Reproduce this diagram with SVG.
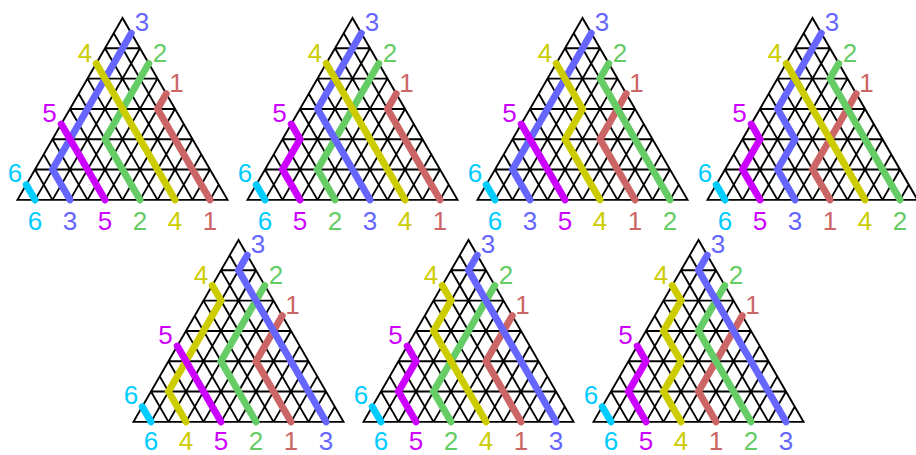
<svg xmlns="http://www.w3.org/2000/svg" xmlns:xlink="http://www.w3.org/1999/xlink" width="916" height="455" viewBox="0 0 916 455">
<style>
.g{fill:none;stroke:#000;stroke-width:1.9}
.p{fill:none;stroke-width:7;stroke-linecap:round;stroke-linejoin:miter}
.t{font-family:"Liberation Sans",Arial,sans-serif;font-size:26px;text-anchor:middle}
.c1{stroke:#cc6666}.c2{stroke:#66cc66}.c3{stroke:#6666ff}.c4{stroke:#cccc00}.c5{stroke:#cc00ff}.c6{stroke:#00ccff}
.f1{fill:#cc6666}.f2{fill:#66cc66}.f3{fill:#6666ff}.f4{fill:#cccc00}.f5{fill:#cc00ff}.f6{fill:#00ccff}
</style>
<defs>
<path id="grid" class="g" d="M0,0 L-105,181.87 H105 Z
M-17.5,30.31 H17.5 M-35,60.62 H35 M-52.5,90.93 H52.5 M-70,121.24 H70 M-87.5,151.55 H87.5
M-87.5,181.87 L8.75,15.16 M-70,181.87 L17.5,30.31 M-52.5,181.87 L26.25,45.47 M-35,181.87 L35,60.62
M-17.5,181.87 L43.75,75.78 M0,181.87 L52.5,90.93 M17.5,181.87 L61.25,106.09 M35,181.87 L70,121.24
M52.5,181.87 L78.75,136.4 M70,181.87 L87.5,151.55 M87.5,181.87 L96.25,166.71
M87.5,181.87 L-8.75,15.16 M70,181.87 L-17.5,30.31 M52.5,181.87 L-26.25,45.47 M35,181.87 L-35,60.62
M17.5,181.87 L-43.75,75.78 M0,181.87 L-52.5,90.93 M-17.5,181.87 L-61.25,106.09 M-35,181.87 L-70,121.24
M-52.5,181.87 L-78.75,136.4 M-70,181.87 L-87.5,151.55 M-87.5,181.87 L-96.25,166.71"/>
<g id="toplabels" class="t">
<text class="f3" x="19.5" y="12.5">3</text>
<text class="f4" x="-37.5" y="43.5">4</text>
<text class="f2" x="37.5" y="43.5">2</text>
<text class="f1" x="54" y="73.5">1</text>
<text class="f5" x="-73" y="104">5</text>
<text class="f6" x="-107.5" y="163.5">6</text>
</g>
</defs>

<g id="tri1" transform="translate(122.5,18)">
<use href="#grid" xlink:href="#grid"/>
<use href="#toplabels" xlink:href="#toplabels"/>
<g id="tri1-connectors">
<polyline class="p c1" points="43.75,75.78 35,90.93 87.5,181.87"/>
<polyline class="p c2" points="26.25,45.47 -17.5,121.24 17.5,181.87"/>
<polyline class="p c3" points="8.75,15.16 -70,151.55 -52.5,181.87"/>
<polyline class="p c4" points="-26.25,45.47 52.5,181.87"/>
<polyline class="p c5" points="-61.25,106.09 -17.5,181.87"/>
<polyline class="p c6" points="-96.25,166.71 -87.5,181.87"/>
</g>
<g class="t">
<text class="f6" x="-87.5" y="212">6</text><text class="f3" x="-52.5" y="212">3</text><text class="f5" x="-17.5" y="212">5</text>
<text class="f2" x="17.5" y="212">2</text><text class="f4" x="52.5" y="212">4</text><text class="f1" x="87.5" y="212">1</text>
</g>
</g>

<g id="tri2" transform="translate(352.5,18)">
<use href="#grid" xlink:href="#grid"/>
<use href="#toplabels" xlink:href="#toplabels"/>
<g id="tri2-connectors">
<polyline class="p c1" points="43.75,75.78 35,90.93 87.5,181.87"/>
<polyline class="p c2" points="26.25,45.47 -35,151.55 -17.5,181.87"/>
<polyline class="p c3" points="8.75,15.16 -35,90.93 17.5,181.87"/>
<polyline class="p c4" points="-26.25,45.47 52.5,181.87"/>
<polyline class="p c5" points="-61.25,106.09 -52.5,121.24 -70,151.55 -52.5,181.87"/>
<polyline class="p c6" points="-96.25,166.71 -87.5,181.87"/>
</g>
<g class="t">
<text class="f6" x="-87.5" y="212">6</text><text class="f5" x="-52.5" y="212">5</text><text class="f2" x="-17.5" y="212">2</text>
<text class="f3" x="17.5" y="212">3</text><text class="f4" x="52.5" y="212">4</text><text class="f1" x="87.5" y="212">1</text>
</g>
</g>

<g id="tri3" transform="translate(582.5,18)">
<use href="#grid" xlink:href="#grid"/>
<use href="#toplabels" xlink:href="#toplabels"/>
<g id="tri3-connectors">
<polyline class="p c1" points="43.75,75.78 17.5,121.24 52.5,181.87"/>
<polyline class="p c2" points="26.25,45.47 17.5,60.62 87.5,181.87"/>
<polyline class="p c3" points="8.75,15.16 -70,151.55 -52.5,181.87"/>
<polyline class="p c4" points="-26.25,45.47 0,90.93 -17.5,121.24 17.5,181.87"/>
<polyline class="p c5" points="-61.25,106.09 -17.5,181.87"/>
<polyline class="p c6" points="-96.25,166.71 -87.5,181.87"/>
</g>
<g class="t">
<text class="f6" x="-87.5" y="212">6</text><text class="f3" x="-52.5" y="212">3</text><text class="f5" x="-17.5" y="212">5</text>
<text class="f4" x="17.5" y="212">4</text><text class="f1" x="52.5" y="212">1</text><text class="f2" x="87.5" y="212">2</text>
</g>
</g>

<g id="tri4" transform="translate(812.5,18)">
<use href="#grid" xlink:href="#grid"/>
<use href="#toplabels" xlink:href="#toplabels"/>
<g id="tri4-connectors">
<polyline class="p c1" points="43.75,75.78 0,151.55 17.5,181.87"/>
<polyline class="p c2" points="26.25,45.47 17.5,60.62 87.5,181.87"/>
<polyline class="p c3" points="8.75,15.16 -35,90.93 -17.5,121.24 -35,151.55 -17.5,181.87"/>
<polyline class="p c4" points="-26.25,45.47 52.5,181.87"/>
<polyline class="p c5" points="-61.25,106.09 -52.5,121.24 -70,151.55 -52.5,181.87"/>
<polyline class="p c6" points="-96.25,166.71 -87.5,181.87"/>
</g>
<g class="t">
<text class="f6" x="-87.5" y="212">6</text><text class="f5" x="-52.5" y="212">5</text><text class="f3" x="-17.5" y="212">3</text>
<text class="f1" x="17.5" y="212">1</text><text class="f4" x="52.5" y="212">4</text><text class="f2" x="87.5" y="212">2</text>
</g>
</g>

<g id="tri5" transform="translate(238.5,240)">
<use href="#grid" xlink:href="#grid"/>
<use href="#toplabels" xlink:href="#toplabels"/>
<g id="tri5-connectors">
<polyline class="p c1" points="43.75,75.78 17.5,121.24 52.5,181.87"/>
<polyline class="p c2" points="26.25,45.47 -17.5,121.24 17.5,181.87"/>
<polyline class="p c3" points="8.75,15.16 0,30.31 87.5,181.87"/>
<polyline class="p c4" points="-26.25,45.47 -17.5,60.62 -70,151.55 -52.5,181.87"/>
<polyline class="p c5" points="-61.25,106.09 -17.5,181.87"/>
<polyline class="p c6" points="-96.25,166.71 -87.5,181.87"/>
</g>
<g class="t">
<text class="f6" x="-87.5" y="209.5">6</text><text class="f4" x="-52.5" y="209.5">4</text><text class="f5" x="-17.5" y="209.5">5</text>
<text class="f2" x="17.5" y="209.5">2</text><text class="f1" x="52.5" y="209.5">1</text><text class="f3" x="87.5" y="209.5">3</text>
</g>
</g>

<g id="tri6" transform="translate(468.5,240)">
<use href="#grid" xlink:href="#grid"/>
<use href="#toplabels" xlink:href="#toplabels"/>
<g id="tri6-connectors">
<polyline class="p c1" points="43.75,75.78 17.5,121.24 52.5,181.87"/>
<polyline class="p c2" points="26.25,45.47 -35,151.55 -17.5,181.87"/>
<polyline class="p c3" points="8.75,15.16 0,30.31 87.5,181.87"/>
<polyline class="p c4" points="-26.25,45.47 -17.5,60.62 -35,90.93 17.5,181.87"/>
<polyline class="p c5" points="-61.25,106.09 -52.5,121.24 -70,151.55 -52.5,181.87"/>
<polyline class="p c6" points="-96.25,166.71 -87.5,181.87"/>
</g>
<g class="t">
<text class="f6" x="-87.5" y="209.5">6</text><text class="f5" x="-52.5" y="209.5">5</text><text class="f2" x="-17.5" y="209.5">2</text>
<text class="f4" x="17.5" y="209.5">4</text><text class="f1" x="52.5" y="209.5">1</text><text class="f3" x="87.5" y="209.5">3</text>
</g>
</g>

<g id="tri7" transform="translate(698.5,240)">
<use href="#grid" xlink:href="#grid"/>
<use href="#toplabels" xlink:href="#toplabels"/>
<g id="tri7-connectors">
<polyline class="p c1" points="43.75,75.78 0,151.55 17.5,181.87"/>
<polyline class="p c2" points="26.25,45.47 0,90.93 52.5,181.87"/>
<polyline class="p c3" points="8.75,15.16 0,30.31 87.5,181.87"/>
<polyline class="p c4" points="-26.25,45.47 -17.5,60.62 -35,90.93 -17.5,121.24 -35,151.55 -17.5,181.87"/>
<polyline class="p c5" points="-61.25,106.09 -52.5,121.24 -70,151.55 -52.5,181.87"/>
<polyline class="p c6" points="-96.25,166.71 -87.5,181.87"/>
</g>
<g class="t">
<text class="f6" x="-87.5" y="209.5">6</text><text class="f5" x="-52.5" y="209.5">5</text><text class="f4" x="-17.5" y="209.5">4</text>
<text class="f1" x="17.5" y="209.5">1</text><text class="f2" x="52.5" y="209.5">2</text><text class="f3" x="87.5" y="209.5">3</text>
</g>
</g>
</svg>
